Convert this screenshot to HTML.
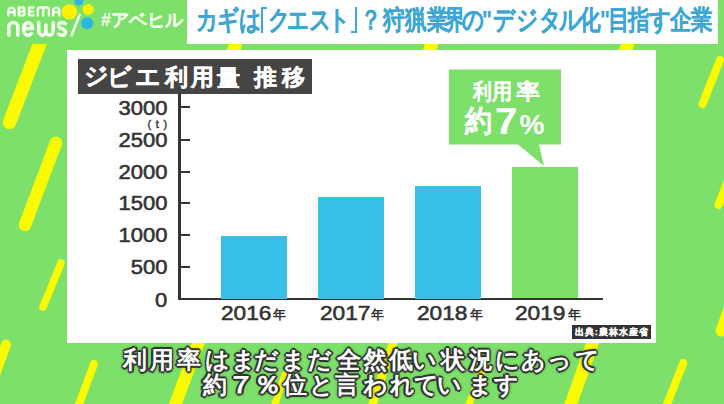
<!DOCTYPE html>
<html lang="ja">
<head>
<meta charset="utf-8">
<style>
html,body{margin:0;padding:0;}
body{width:724px;height:404px;overflow:hidden;position:relative;background:#7ce06a;font-family:"Liberation Sans",sans-serif;}
.abs{position:absolute;}
#stripes{position:absolute;left:0;top:0;}
#band{position:absolute;left:0;top:0;width:724px;height:43.6px;background:#7ce06a;}
#title{position:absolute;left:187px;top:0;width:531px;height:43.6px;background:#fff;}
#title b{position:absolute;}
#title i{position:absolute;top:0;width:40px;text-align:center;font-style:normal;font-size:26.5px;line-height:40px;font-weight:bold;color:#3ea6d2;-webkit-text-stroke:0.15px #3ea6d2;transform:scaleX(0.8);}
#tag{position:absolute;left:101px;top:9px;font-size:18px;line-height:22px;font-weight:bold;color:#f2ffec;white-space:nowrap;-webkit-text-stroke:0.2px #f2ffec;}
#panel{position:absolute;left:66.6px;top:49.9px;width:589px;height:293.5px;background:#fff;}
#ctitle{position:absolute;left:78px;top:59px;width:234px;height:35px;background:#454545;}
.ct{position:absolute;top:47.5px;width:60px;text-align:center;font-style:normal;font-size:22.5px;line-height:60px;font-weight:bold;color:#fff;-webkit-text-stroke:0.4px #fff;}
.ylab{position:absolute;right:556.5px;font-size:20px;line-height:20px;color:#333;text-align:right;transform-origin:100% 0;transform:scaleX(1.1);-webkit-text-stroke:0.55px #333;}
.bar{position:absolute;background:#38c0e6;}
.xlab{position:absolute;top:302.5px;font-size:20px;line-height:20px;color:#333;white-space:nowrap;transform-origin:0 0;transform:scaleX(1.135);-webkit-text-stroke:0.55px #333;}
.nen{position:absolute;top:305px;font-size:12.5px;line-height:20px;font-weight:bold;color:#333;}
#src{position:absolute;left:572px;top:325.2px;width:79.2px;height:13.8px;background:#333;color:#fff;font-size:9.3px;line-height:15.5px;letter-spacing:1px;font-weight:bold;-webkit-text-stroke:0.25px #fff;white-space:nowrap;text-align:center;text-indent:0.6px;}
.co{position:absolute;width:60px;text-align:center;font-style:normal;line-height:60px;font-weight:bold;color:#fff;-webkit-text-stroke:0.1px #fff;}
.sg{position:absolute;width:60px;text-align:center;font-style:normal;color:#fff;font-weight:bold;font-size:23.5px;line-height:60px;
 text-shadow:-1.2px -1.2px 0 #333,1.2px -1.2px 0 #333,-1.2px 1.2px 0 #333,1.2px 1.2px 0 #333,0 1.7px 0 #333,0 -1.7px 0 #333,1.7px 0 0 #333,-1.7px 0 0 #333,0 0 2.5px #222,0 0 4px rgba(0,0,0,.45);}
</style>
</head>
<body>
<svg id="stripes" width="724" height="404" viewBox="0 0 724 404">
 <g stroke="#fafa00" stroke-linecap="round" fill="none">
  <line x1="43" y1="35" x2="9.5" y2="122.5" stroke-width="13.5"/>
  <line x1="56" y1="142.8" x2="25" y2="225" stroke-width="12.5"/>
  <line x1="61" y1="263" x2="43" y2="307" stroke-width="7.5"/>
  <line x1="6" y1="344.5" x2="-8" y2="383" stroke-width="10"/>
  <line x1="94" y1="364" x2="77" y2="410" stroke-width="8"/>
  <line x1="206" y1="322" x2="172.5" y2="412" stroke-width="12.5"/>
  <line x1="285" y1="374.5" x2="273" y2="410" stroke-width="7"/>
  <line x1="400" y1="322" x2="370" y2="412" stroke-width="8.5"/>
  <line x1="485" y1="363" x2="466" y2="412" stroke-width="7"/>
  <line x1="600" y1="322" x2="568" y2="412" stroke-width="12.5"/>
  <line x1="683.3" y1="363" x2="664" y2="412" stroke-width="8"/>
  <line x1="735" y1="292" x2="721" y2="331" stroke-width="11"/>
  <line x1="720" y1="60" x2="702.5" y2="104" stroke-width="8"/>
  <line x1="732" y1="170" x2="718.5" y2="205" stroke-width="8"/>
  <line x1="238" y1="36" x2="232" y2="56" stroke-width="13"/>
  <line x1="434" y1="36" x2="428" y2="56" stroke-width="13"/>
  <line x1="630" y1="36" x2="624" y2="56" stroke-width="13"/>
 </g>
</svg>
<div id="band"></div>

<!-- logo -->
<svg class="abs" style="left:0;top:0" width="100" height="43" viewBox="0 0 100 43">
 <circle cx="78.8" cy="1" r="4.5" fill="#2fb4e8"/>
 <circle cx="69.4" cy="11.9" r="7.7" fill="#fff200"/>
 <circle cx="88.2" cy="9.4" r="5.5" fill="#fff200"/>
 <circle cx="87.2" cy="23.3" r="6.1" fill="#2fb4e8"/>
 <g fill="none" stroke="#f2fcec" stroke-linecap="round" stroke-linejoin="round">
  <line x1="79.6" y1="15" x2="71.6" y2="35.3" stroke-width="2.6"/>
  <g stroke-width="2.4">
   <path d="M8.4 15.4 V10.7 A3.1 3.1 0 0 1 14.6 10.7 V15.4 M8.4 12.3 H14.6"/>
   <path d="M18.8 7.5 V15.4 H22.6 A1.95 1.95 0 0 0 22.6 11.5 H18.8 M18.8 7.5 H22.4 A2 2 0 0 1 22.4 11.5"/>
   <path d="M33.6 7.5 H29.1 V15.4 H33.6 M29.1 11.45 H33.1"/>
   <path d="M37.8 15.4 V9.8 Q37.8 7.5 40 7.5 H46.7 Q48.9 7.5 48.9 9.8 V15.4 M43.35 7.5 V15.4"/>
   <path d="M53.1 15.4 V10.7 A3.1 3.1 0 0 1 59.3 10.7 V15.4 M53.1 12.3 H59.3"/>
  </g>
  <g stroke-width="3.5">
   <path d="M8.9 35.2 V27 A4.45 4.45 0 0 1 17.8 27 V35.2"/>
   <path d="M23.4 28.6 H32.7 A4.65 6.3 0 1 0 31.2 33.6"/>
   <path d="M38.75 22.6 V30.8 A3.6 4.4 0 0 0 45.95 30.8 V25 M45.95 30.8 A3.6 4.4 0 0 0 53.15 30.8 V22.6"/>
   <path d="M65.2 23.6 Q63.8 22.5 61.8 22.5 Q58.65 22.5 58.65 25.4 Q58.65 27.8 62 28.6 Q65.35 29.4 65.35 32.2 Q65.35 35.2 61.9 35.2 Q59.8 35.2 58.6 34"/>
  </g>
 </g>
</svg>
<div id="tag">#アベヒル</div>

<div id="title"><i style="left:0.4px">カ</i><i style="left:20.7px">ギ</i><i style="left:42.5px">は</i><b style="left:73.5px;top:7px;width:4px;height:23.5px;border-left:2.6px solid #3ea6d2;border-top:2.6px solid #3ea6d2"></b><i style="left:71.5px">ク</i><i style="left:91.3px">エ</i><i style="left:112.7px">ス</i><i style="left:131.8px">ト</i><b style="left:163.5px;top:7px;width:4px;height:23.5px;border-right:2.6px solid #3ea6d2;border-bottom:2.6px solid #3ea6d2"></b><i style="left:164.2px">？</i><i style="left:187.4px">狩</i><i style="left:208.7px">猟</i><i style="left:230.5px">業</i><i style="left:248.1px">界</i><i style="left:265.6px">の</i><i style="left:280.0px">"</i><i style="left:296.5px">デ</i><i style="left:320.2px">ジ</i><i style="left:343.0px">タ</i><i style="left:362.7px">ル</i><i style="left:383.3px">化</i><i style="left:397.5px">"</i><i style="left:411.5px">目</i><i style="left:431.8px">指</i><i style="left:453.1px">す</i><i style="left:474.4px">企</i><i style="left:494.7px">業</i></div>

<div id="panel"></div>
<div id="ctitle"></div><i class="ct" style="left:66.5px;top:46.4px;font-size:24px">ジ</i><i class="ct" style="left:89.5px;top:47.4px;font-size:24px">ビ</i><i class="ct" style="left:118.4px;top:45.9px;font-size:25px">エ</i><i class="ct" style="left:146.9px;top:47.9px;font-size:22.5px">利</i><i class="ct" style="left:172.3px;top:47.9px;font-size:22.5px">用</i><i class="ct" style="left:198.6px;top:48.9px;font-size:22.5px">量</i><i class="ct" style="left:235.9px;top:47.9px;font-size:22.5px">推</i><i class="ct" style="left:263.0px;top:48.4px;font-size:22.5px">移</i>

<!-- axis -->
<div class="abs" style="left:178.3px;top:93.5px;width:2.6px;height:206.5px;background:#333"></div>
<div class="abs" style="left:178px;top:297.5px;width:425px;height:2.5px;background:#333"></div>
<div class="abs" style="left:180px;top:106px;width:10px;height:2px;background:#333"></div>
<div class="abs" style="left:180px;top:138.5px;width:10px;height:2px;background:#333"></div>
<div class="abs" style="left:180px;top:170.5px;width:10px;height:2px;background:#333"></div>
<div class="abs" style="left:180px;top:202px;width:10px;height:2px;background:#333"></div>
<div class="abs" style="left:180px;top:234px;width:10px;height:2px;background:#333"></div>
<div class="abs" style="left:180px;top:265.5px;width:10px;height:2px;background:#333"></div>

<div class="ylab" style="top:97.8px">3000</div>
<div class="abs" style="left:147.5px;top:116.5px;font-size:11px;line-height:14px;color:#333;white-space:pre;letter-spacing:0.8px;-webkit-text-stroke:0.4px #333">( t )</div>
<div class="ylab" style="top:130.4px">2500</div>
<div class="ylab" style="top:162.0px">2000</div>
<div class="ylab" style="top:193.1px">1500</div>
<div class="ylab" style="top:225.4px">1000</div>
<div class="ylab" style="top:257.0px">500</div>
<div class="ylab" style="top:289.8px">0</div>

<div class="bar" style="left:220.5px;top:235.5px;width:66px;height:63px"></div>
<div class="bar" style="left:318px;top:196.5px;width:66px;height:102px"></div>
<div class="bar" style="left:415px;top:185.5px;width:66px;height:113px"></div>
<div class="bar" style="left:512.3px;top:167.2px;width:66px;height:131px;background:#7ce06a"></div>

<!-- callout -->
<svg class="abs" style="left:0;top:0" width="724" height="404" viewBox="0 0 724 404">
 <path d="M449 69.5 H561 V144.5 H539 L544 166 L518 144.5 H449 Z" fill="#7ce06a"/>
</svg>
<i class="co" style="left:452px;top:61.5px;font-size:21.5px;transform:scaleX(0.85)">利</i><i class="co" style="left:472.4px;top:61.5px;font-size:21.5px;transform:scaleX(0.92)">用</i><i class="co" style="left:498px;top:61.5px;font-size:21.5px;transform:scaleX(1.1)">率</i><i class="co" style="left:448.2px;top:91px;font-size:30px;transform:scaleX(0.9)">約</i><i class="co" style="left:494.8px;top:92px;width:auto;text-align:left;font-size:36.5px;transform-origin:0 0;transform:scaleX(1.1)">7</i><i class="co" style="left:519.4px;top:94.5px;width:auto;text-align:left;font-size:28px">%</i>

<div class="xlab" style="left:220.6px">2016</div><div class="nen" style="left:273.0px">年</div>
<div class="xlab" style="left:319.5px">2017</div><div class="nen" style="left:370.6px">年</div>
<div class="xlab" style="left:416.7px">2018</div><div class="nen" style="left:469.6px">年</div>
<div class="xlab" style="left:515.0px">2019</div><div class="nen" style="left:568.0px">年</div>

<div id="src">出典:農林水産省</div>

<i class="sg" style="left:105.4px;top:329.8px">利</i><i class="sg" style="left:131.7px;top:329.8px">用</i><i class="sg" style="left:158.8px;top:329.8px">率</i><i class="sg" style="left:187.9px;top:329.8px">は</i><i class="sg" style="left:213.5px;top:329.8px">ま</i><i class="sg" style="left:236.4px;top:329.8px">だ</i><i class="sg" style="left:263.4px;top:329.8px">ま</i><i class="sg" style="left:289.8px;top:329.8px">だ</i><i class="sg" style="left:319.0px;top:329.8px">全</i><i class="sg" style="left:345.4px;top:329.8px">然</i><i class="sg" style="left:370.6px;top:329.8px">低</i><i class="sg" style="left:394.2px;top:329.8px">い</i><i class="sg" style="left:423.0px;top:329.8px">状</i><i class="sg" style="left:450.5px;top:329.8px">況</i><i class="sg" style="left:477.8px;top:329.8px">に</i><i class="sg" style="left:503.6px;top:329.8px">あ</i><i class="sg" style="left:529.6px;top:329.8px">っ</i><i class="sg" style="left:557.2px;top:329.8px">て</i>
<i class="sg" style="left:184.5px;top:355.0px">約</i><i class="sg" style="left:211.0px;top:355.0px;transform:scaleX(1.25)">７</i><i class="sg" style="left:236.5px;top:355.0px;transform:scaleX(1.2)">％</i><i class="sg" style="left:265.4px;top:355.0px">位</i><i class="sg" style="left:291.5px;top:355.0px">と</i><i class="sg" style="left:317.3px;top:355.0px">言</i><i class="sg" style="left:345.0px;top:355.0px">わ</i><i class="sg" style="left:372.0px;top:355.0px">れ</i><i class="sg" style="left:396.0px;top:355.0px">て</i><i class="sg" style="left:419.2px;top:355.0px">い</i><i class="sg" style="left:450.5px;top:355.0px">ま</i><i class="sg" style="left:476.2px;top:355.0px">す</i>
</body>
</html>
